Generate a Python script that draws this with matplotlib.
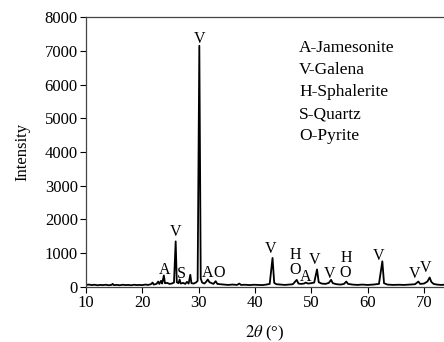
import matplotlib
matplotlib.use("Agg")
import matplotlib.pyplot as plt

plt.rcParams['font.family'] = ['Liberation Serif', 'DejaVu Serif']
plt.rcParams['mathtext.fontset'] = 'stix'

# XRD pattern (2theta in degrees, intensity)
two_theta = [10.0, 10.5, 11.0, 11.5, 12.0, 12.5, 13.0, 13.5, 14.0, 14.5, 14.7, 14.9,
             15.5, 16.0, 16.5, 17.0, 17.5, 18.0, 18.5, 19.0, 19.5, 20.0, 20.5, 21.0,
             21.5, 21.8, 22.0, 22.5, 22.8, 23.0, 23.3, 23.5, 23.8, 24.0, 24.4, 24.8,
             25.2, 25.6, 25.9, 26.1, 26.4, 26.6, 26.8, 27.2, 27.6, 27.9, 28.2, 28.5,
             28.7, 29.1, 29.5, 29.8, 30.1, 30.35, 30.6, 31.0, 31.3, 31.6, 31.9, 32.3,
             32.6, 33.0, 33.3, 33.8, 34.5, 35.2, 36.0, 36.8, 37.2, 37.5, 38.2, 39.0,
             39.8, 40.5, 41.3, 42.0, 42.6, 43.1, 43.4, 43.8, 44.5, 45.3, 46.0, 46.7,
             47.4, 47.7, 48.2, 48.7, 49.0, 49.4, 49.9, 50.5, 51.0, 51.3, 51.8, 52.5,
             53.1, 53.5, 53.8, 54.5, 55.2, 55.8, 56.2, 56.5, 57.3, 58.2, 59.0, 60.0,
             61.0, 62.0, 62.6, 62.9, 63.5, 64.5, 65.5, 66.5, 67.5, 68.4, 69.0, 69.3,
             70.0, 70.6, 71.0, 71.3, 71.7, 72.3, 73.0, 73.6]
intensity = [60, 70, 55, 65, 50, 60, 55, 65, 50, 60, 90, 55,
             60, 50, 65, 55, 60, 50, 65, 55, 60, 55, 70, 60,
             80, 130, 70, 90, 160, 90, 180, 100, 340, 110, 120, 90,
             100, 130, 1350, 140, 110, 220, 100, 120, 90, 150, 100, 360,
             110, 100, 130, 180, 7150, 250, 130, 100, 150, 220, 140, 110,
             90, 170, 90, 80, 70, 60, 70, 60, 100, 60, 65, 55,
             65, 60, 55, 70, 90, 860, 120, 80, 70, 60, 70, 80,
             210, 100, 90, 100, 130, 100, 110, 130, 520, 140, 100, 90,
             120, 210, 110, 80, 70, 90, 160, 90, 70, 60, 70, 60,
             70, 90, 760, 110, 70, 60, 65, 60, 70, 80, 160, 90,
             100, 160, 280, 150, 90, 70, 60, 65]

# phase letters above the peaks
peak_letters = ['A', 'V', 'S', 'V', 'A', 'O', 'V', 'H', 'O', 'A', 'V', 'V',
                'H', 'O', 'V', 'V', 'V']
peak_x = [24.0, 25.9, 26.9, 30.2, 31.5, 33.6, 42.7, 47.2, 47.2, 48.9, 50.6, 53.2,
          56.2, 56.0, 62.0, 68.3, 70.3]
peak_y = [500, 1640, 385, 7350, 425, 405, 1120, 950, 490, 280, 800, 385,
          870, 410, 930, 376, 554]

phase_key = ['A-Jamesonite', 'V-Galena', 'H-Sphalerite', 'S-Quartz', 'O-Pyrite']

fig = plt.figure(figsize=(4.44, 3.42), dpi=100)
ax = fig.add_axes([0.194, 0.161, 0.806, 0.789])

ax.plot(two_theta, intensity, color='black', lw=1.3)

for letter, x, y in zip(peak_letters, peak_x, peak_y):
    ax.text(x, y, letter, ha='center', va='center', fontsize=11.5)

for i, name in enumerate(phase_key):
    ax.text(0.595, 0.885 - i * 0.0815, name, transform=ax.transAxes,
            ha='left', va='center', fontsize=12.5)

ax.set_xlim(10, 73.55)
ax.set_ylim(0, 8000)
ax.set_xticks([10, 20, 30, 40, 50, 60, 70])
ax.set_yticks(range(0, 8001, 1000))
ax.tick_params(direction='out', length=4, width=0.8, labelsize=12, pad=2)
ax.spines['right'].set_visible(False)
for s in ['left', 'bottom', 'top']:
    ax.spines[s].set_linewidth(0.9)
    ax.spines[s].set_color('#444444')

ax.set_ylabel('Intensity', fontsize=12, labelpad=10)
ax.set_xlabel(r'$\mathit{2\theta}$ (°)', fontsize=12, labelpad=9)

fig.savefig('out.png', dpi=100)
